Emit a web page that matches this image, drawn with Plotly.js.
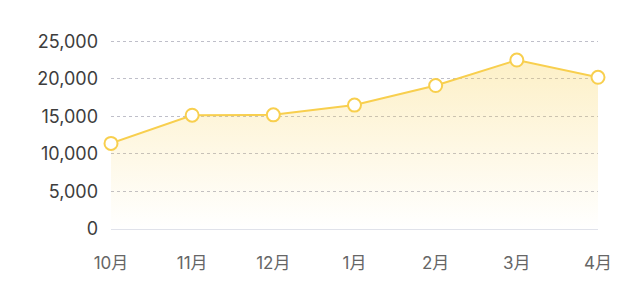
<!DOCTYPE html>
<html>
<head>
<meta charset="utf-8">
<script src="https://cdn.plot.ly/plotly-3.0.1.min.js"></script>
<style>
  html, body { margin: 0; padding: 0; background: #fff; }
  #chart { width: 640px; height: 288px; }
</style>
</head>
<body>
<div id="chart"></div>
<script>
// Monthly totals, October to April
const months = ['10月', '11月', '12月', '1月', '2月', '3月', '4月'];
const values = [11400, 15150, 15200, 16500, 19100, 22500, 20200];
const yTicks = [0, 5000, 10000, 15000, 20000, 25000];
const yTickText = ['0', '5,000', '10,000', '15,000', '20,000', '25,000'];

const fontFamily = 'Inter, "Noto Sans CJK SC", "Liberation Sans", sans-serif';

const trace = {
  type: 'scatter',
  mode: 'lines+markers',
  x: months,
  y: values,
  fill: 'tozeroy',
  // translucent so the dashed grid shows through the area
  fillgradient: {
    type: 'vertical',
    colorscale: [[0, 'rgba(248,208,80,0)'], [1, 'rgba(248,208,80,0.32)']]
  },
  line: { color: '#F8CF4E', width: 2 },
  marker: { size: 13, color: '#ffffff', line: { color: '#F8CF4E', width: 2 } },
  cliponaxis: false,
  hoverinfo: 'skip'
};

const layout = {
  width: 640,
  height: 288,
  margin: { l: 111, r: 42, t: 39, b: 59 },
  paper_bgcolor: '#ffffff',
  plot_bgcolor: '#ffffff',
  showlegend: false,
  font: { family: fontFamily, color: '#666666', size: 17 },
  xaxis: {
    type: 'category',
    range: [0, 6],
    showgrid: false,
    showline: false,
    zeroline: false,
    ticks: '',
    ticklabelstandoff: 22,
    tickfont: { size: 17, color: '#666666' },
    fixedrange: true
  },
  yaxis: {
    // a little headroom so the top grid line is kept
    range: [0, 25300],
    tickvals: yTicks,
    ticktext: yTickText,
    showgrid: true,
    gridcolor: '#BFBFC9',
    gridwidth: 1,
    griddash: '3px,3px',
    zeroline: true,
    zerolinecolor: '#E0E2EA',
    zerolinewidth: 1,
    showline: false,
    ticks: '',
    ticklabelstandoff: 12,
    tickfont: { size: 18, color: '#3d3d3d' },
    fixedrange: true
  }
};

Plotly.newPlot('chart', [trace], layout, { displayModeBar: false, staticPlot: true });
</script>
</body>
</html>
